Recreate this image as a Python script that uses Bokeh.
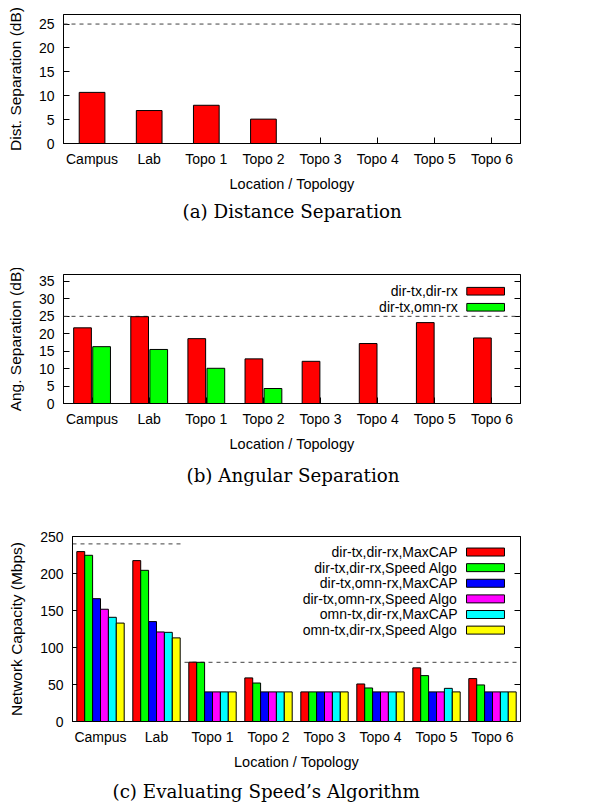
from bokeh.plotting import figure
from bokeh.models import ColumnDataSource, FixedTicker, LinearAxis, Range1d, Span
from bokeh.embed import file_html
from bokeh.resources import INLINE
from bokeh.core.properties import value

# ---------------- data ----------------
categories = ["Campus", "Lab", "Topo 1", "Topo 2", "Topo 3", "Topo 4", "Topo 5", "Topo 6"]

dist_sep = [10.7, 6.9, 8.0, 5.1, 0, 0, 0, 0]

ang_series = ["dir-tx,dir-rx", "dir-tx,omn-rx"]
ang_dir_rx = [21.7, 24.9, 18.6, 12.8, 12.1, 17.2, 23.2, 18.8]
ang_omn_rx = [16.3, 15.5, 10.1, 4.3, 0, 0, 0, 0]

cap_series = ["dir-tx,dir-rx,MaxCAP", "dir-tx,dir-rx,Speed Algo",
              "dir-tx,omn-rx,MaxCAP", "dir-tx,omn-rx,Speed Algo",
              "omn-tx,dir-rx,MaxCAP", "omn-tx,dir-rx,Speed Algo"]
cap_dd_maxcap = [229.6, 217.4, 80.2, 58.9, 40, 50.7, 72.5, 58.0]
cap_dd_speed = [224.6, 204.3, 80.0, 52.0, 40, 45.3, 62.0, 49.4]
cap_do_maxcap = [166.0, 135.0, 40, 40, 40, 40, 40, 40]
cap_do_speed = [151.7, 121.0, 40, 40, 40, 40, 40, 40]
cap_od_maxcap = [140.8, 120.5, 40, 40, 40, 40, 44.8, 40]
cap_od_speed = [133.0, 113.0, 40, 40, 40, 40, 40, 40]

sep_threshold = 25
cap_limit_values = [240, 80]
cap_limit_groups = [("Campus", "Lab"), ("Topo 1", "Topo 6")]

yticks_a = [0, 5, 10, 15, 20, 25]
yticks_b = [0, 5, 10, 15, 20, 25, 30, 35]
yticks_c = [0, 50, 100, 150, 200, 250]

# ---------------- style ----------------
SANS = "Liberation Sans"
SERIF = "DejaVu Serif"
colors2 = ["#ff0000", "#00ff00"]
colors6 = ["#ff0000", "#00ff00", "#0000ff", "#ff00ff", "#00ffff", "#ffff00"]
DASH_COLOR = "#404040"
TOTAL_W = 535


def base_fig(frame_w, frame_h, left_b, top_b, bottom_b, ymax, yticks, ylabel,
             caption, cap_offset, cap_standoff):
    p = figure(frame_width=frame_w, frame_height=frame_h,
               x_range=Range1d(-0.5, 7.5), y_range=Range1d(0, ymax),
               min_border_left=left_b, min_border_right=TOTAL_W - left_b - frame_w,
               min_border_top=top_b, min_border_bottom=bottom_b,
               output_backend="svg", toolbar_location=None,
               title=caption, title_location="below")
    p.grid.visible = False
    p.outline_line_color = "black"
    p.outline_line_alpha = 1.0
    p.background_fill_color = "white"
    p.border_fill_color = "white"

    xa = p.xaxis[0]
    xa.ticker = FixedTicker(ticks=list(range(len(categories))))
    xa.major_label_overrides = {i: c for i, c in enumerate(categories)}
    xa.major_tick_in = 6
    xa.major_tick_out = 0
    xa.minor_tick_line_color = None
    xa.axis_line_color = "black"
    xa.major_label_text_font = SANS
    xa.major_label_text_font_size = "14px"
    xa.major_label_text_color = "black"
    xa.major_label_standoff = 7
    xa.axis_label = "Location / Topology"
    xa.axis_label_text_font = SANS
    xa.axis_label_text_font_size = "14.5px"
    xa.axis_label_text_font_style = "normal"
    xa.axis_label_text_color = "black"
    xa.axis_label_standoff = 6

    ya = p.yaxis[0]
    ya.ticker = FixedTicker(ticks=yticks)
    ya.major_tick_in = 6
    ya.major_tick_out = 0
    ya.minor_tick_line_color = None
    ya.axis_line_color = "black"
    ya.major_label_text_font = SANS
    ya.major_label_text_font_size = "14px"
    ya.major_label_text_color = "black"
    ya.major_label_standoff = 9
    ya.axis_label = ylabel
    ya.axis_label_text_font = SANS
    ya.axis_label_text_font_size = "15.5px"
    ya.axis_label_text_font_style = "normal"
    ya.axis_label_text_color = "black"
    ya.axis_label_standoff = 12

    ra = LinearAxis(ticker=FixedTicker(ticks=yticks), major_tick_in=6, major_tick_out=0,
                    minor_tick_line_color=None, axis_line_color="black",
                    major_label_text_color=None)
    p.add_layout(ra, "right")

    p.title.align = "left"
    p.title.offset = cap_offset
    p.title.text_font = SERIF
    p.title.text_font_size = "18.3px"
    p.title.text_font_style = "normal"
    p.title.text_color = "black"
    p.title.standoff = cap_standoff
    return p


def bars(p, **kw):
    r = p.vbar(bottom=0, line_color="black", line_width=1, **kw)
    r.level = "overlay"
    return r


xs = list(range(len(categories)))

# ---------- (a) ----------
pa = base_fig(457, 129, 63, 14, 125, 27, yticks_a, "Dist. Separation (dB)",
              "(a) Distance Separation", 119, 8)
pa.add_layout(Span(location=sep_threshold, dimension="width", line_dash="4 4",
                   line_color=DASH_COLOR, line_width=1))
bars(pa, x=xs, top=dist_sep, width=0.45, fill_color="#ff0000")

# ---------- (b) ----------
pb = base_fig(457, 129, 63, 6, 127, 37, yticks_b, "Ang. Separation (dB)",
              "(b) Angular Separation", 123, 17)
pb.add_layout(Span(location=sep_threshold, dimension="width", line_dash="4 4",
                   line_color=DASH_COLOR, line_width=1))
b_off = [-0.167, 0.167]
for vals, col, off in zip([ang_dir_rx, ang_omn_rx], colors2, b_off):
    bars(pb, x=[x + off for x in xs], top=vals, width=0.31, fill_color=col)
# legend (text right, swatch right of it)
b_leg_y = [32.2, 27.6]
pb.text(x=[6.4] * 2, y=b_leg_y, text=ang_series, text_align="right",
        text_baseline="middle", text_font=value(SANS), text_font_size="14px",
        text_color="black")
pb.quad(left=[6.56] * 2, right=[7.22] * 2,
        bottom=[y - 1.1 for y in b_leg_y], top=[y + 1.1 for y in b_leg_y],
        fill_color=colors2, line_color="black", line_width=1)

# ---------- (c) ----------
pc = base_fig(448, 185, 72, 6, 79, 250, yticks_c, "Network Capacity (Mbps)",
              "(c) Evaluating Speed\u2019s Algorithm", 40, 13)
for lim, (g0, g1) in zip(cap_limit_values, cap_limit_groups):
    pc.segment(x0=[categories.index(g0) - 0.5], x1=[categories.index(g1) + 0.5],
               y0=[lim], y1=[lim], line_dash="4 4", line_color=DASH_COLOR, line_width=1)
cap_vals = [cap_dd_maxcap, cap_dd_speed, cap_do_maxcap, cap_do_speed, cap_od_maxcap, cap_od_speed]
bw = 0.141
for k, (vals, col) in enumerate(zip(cap_vals, colors6)):
    off = (k - 2.5) * bw
    bars(pc, x=[x + off for x in xs], top=vals, width=bw, fill_color=col)
c_leg_y = [229.0 - 21.1 * i for i in range(len(cap_series))]
pc.text(x=[6.375] * len(cap_series), y=c_leg_y, text=cap_series, text_align="right",
        text_baseline="middle", text_font=value(SANS), text_font_size="14px",
        text_color="black")
pc.quad(left=[6.536] * len(cap_series), right=[7.214] * len(cap_series),
        bottom=[y - 5.4 for y in c_leg_y], top=[y + 5.4 for y in c_leg_y],
        fill_color=colors6, line_color="black", line_width=1)

# separate roots so the three plot frames are not force-aligned
open("out.html", "w").write(file_html([pa, pb, pc], INLINE))
